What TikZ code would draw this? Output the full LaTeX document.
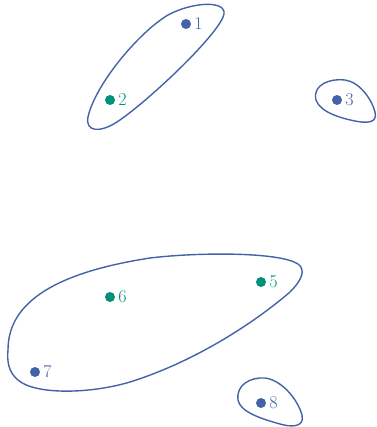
\documentclass[tikz,border=0pt]{standalone}
\definecolor{hblue}{HTML}{4462A8}
\definecolor{hteal}{HTML}{00917A}
\begin{document}
\begin{tikzpicture}[x=1pt, y=-1pt,
    every node/.style={font=\fontsize{18}{18}\selectfont},
    bdot/.style={circle, fill=hblue, inner sep=0pt, minimum size=10pt},
    tdot/.style={circle, fill=hteal, inner sep=0pt, minimum size=10pt},
    blab/.style={text=hblue, inner sep=3pt},
    tlab/.style={text=hteal, inner sep=3pt},
    hull/.style={draw=hblue, line width=1.4pt},
  ]
  \useasboundingbox (0,0) rectangle (376,427);

  \node[bdot, label={[blab]right:1}] (n1) at (186, 24) {};
  \node[tdot, label={[tlab]right:2}] (n2) at (110,100) {};
  \node[bdot, label={[blab]right:3}] (n3) at (337,100) {};
  \node[tdot, label={[tlab]right:5}] (n5) at (261,282) {};
  \node[tdot, label={[tlab]right:6}] (n6) at (110,297) {};
  \node[bdot, label={[blab]right:7}] (n7) at (35, 372) {};
  \node[bdot, label={[blab]right:8}] (n8) at (261,403) {};

  % hulls
  \draw[hull] (224,14) .. controls (226,0) and (192,2) .. (168,15)
    .. controls (138,33) and (95,85) .. (88,117)
    .. controls (85,132) and (100,133) .. (117,122)
    .. controls (150,100) and (221,32) .. (224,14) -- cycle;
  \draw[hull] (316,100) .. controls (312,85) and (330,78) .. (345,80)
    .. controls (360,82) and (372,100) .. (375,112)
    .. controls (378,124) and (365,123) .. (355,121)
    .. controls (340,118) and (320,112) .. (316,100) -- cycle;
  \draw[hull] (238,400) .. controls (236,385) and (250,377) .. (265,378)
    .. controls (282,380) and (298,400) .. (302,415)
    .. controls (305,428) and (290,427) .. (280,424)
    .. controls (262,419) and (240,412) .. (238,400) -- cycle;
  \draw[hull] (8,350) .. controls (8,300) and (60,272) .. (150,258)
    .. controls (200,252) and (280,252) .. (298,264)
    .. controls (306,270) and (302,280) .. (290,292)
    .. controls (260,318) and (200,360) .. (130,382)
    .. controls (90,394) and (35,395) .. (18,380)
    .. controls (8,372) and (7,360) .. (8,350) -- cycle;
\end{tikzpicture}
\end{document}
